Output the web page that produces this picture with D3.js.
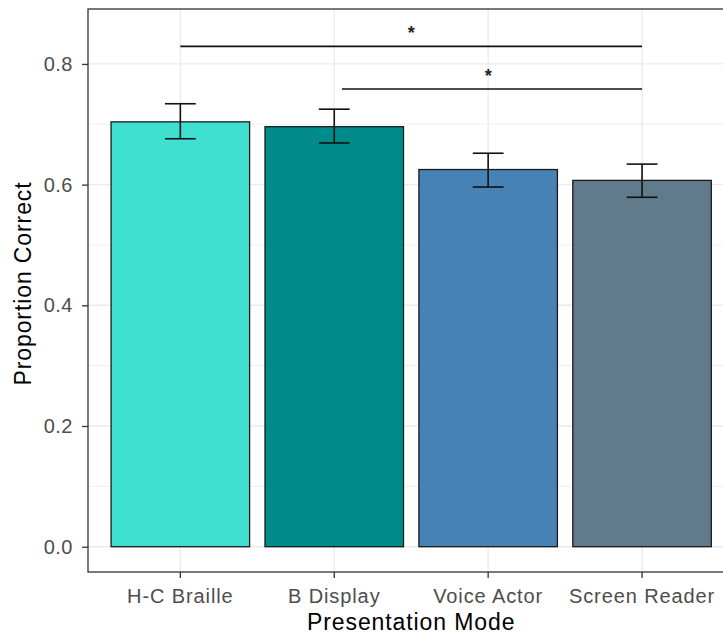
<!DOCTYPE html>
<html>
<head>
<meta charset="utf-8">
<script src="https://cdn.jsdelivr.net/npm/d3@7/dist/d3.min.js"></script>
<style>
  html, body { margin: 0; padding: 0; background: #fff; }
  svg { display: block; font-family: "Liberation Sans", Arial, sans-serif; }
</style>
</head>
<body>
<svg id="chart" width="723" height="637"></svg>
<script>
// Proportion correct by presentation mode, mean with error bars
const categories = ["H-C Braille", "B Display", "Voice Actor", "Screen Reader"];
const means = [0.704, 0.696, 0.625, 0.607];
const errLow = [0.676, 0.669, 0.596, 0.579];
const errHigh = [0.734, 0.725, 0.652, 0.634];
const fills = ["#40E0D0", "#008B8B", "#4682B4", "#607B8B"];
const yTicks = [0, 0.2, 0.4, 0.6, 0.8];
const yMinorTicks = [0.1, 0.3, 0.5, 0.7];
// significance brackets: start / end position (1-based category index), label position, heights
const sigFrom = [1, 2.05];
const sigTo = [4, 4];
const sigStarX = [2.5, 3];
const sigLineY = [0.829, 0.7585];
const sigStarY = [0.851, 0.780];
const sigLabels = ["*", "*"];

const svg = d3.select("#chart");
const panel = { left: 88, top: 9, right: 734.4, bottom: 572 };

const x = d3.scaleBand()
  .domain(categories)
  .range([panel.left, panel.right])
  .paddingInner(0.1)
  .paddingOuter(0.15);

// continuous position (1-based category index) -> pixel
const xPos = d3.scaleLinear()
  .domain([1, categories.length])
  .range([x(categories[0]) + x.bandwidth() / 2,
          x(categories[categories.length - 1]) + x.bandwidth() / 2]);

const y = d3.scaleLinear()
  .domain([-0.0419, 0.891])
  .range([panel.bottom, panel.top]);

// grid
const grid = svg.append("g");
grid.selectAll("line.minor").data(yMinorTicks).enter().append("line")
  .attr("x1", panel.left).attr("x2", panel.right)
  .attr("y1", d => y(d)).attr("y2", d => y(d))
  .attr("stroke", "#EBEBEB").attr("stroke-width", 0.8);
grid.selectAll("line.major").data(yTicks).enter().append("line")
  .attr("x1", panel.left).attr("x2", panel.right)
  .attr("y1", d => y(d)).attr("y2", d => y(d))
  .attr("stroke", "#EBEBEB").attr("stroke-width", 1.4);
grid.selectAll("line.vx").data(categories).enter().append("line")
  .attr("x1", d => x(d) + x.bandwidth() / 2).attr("x2", d => x(d) + x.bandwidth() / 2)
  .attr("y1", panel.top).attr("y2", panel.bottom)
  .attr("stroke", "#EBEBEB").attr("stroke-width", 1.4);

// bars
svg.append("g").selectAll("rect").data(categories).enter().append("rect")
  .attr("x", d => x(d))
  .attr("width", x.bandwidth())
  .attr("y", (d, i) => y(means[i]))
  .attr("height", (d, i) => y(0) - y(means[i]))
  .attr("fill", (d, i) => fills[i])
  .attr("stroke", "#1a1a1a")
  .attr("stroke-width", 1.3);

// error bars
const capHalf = x.step() * 0.1;
const eb = svg.append("g").attr("stroke", "#111").attr("stroke-width", 1.6).attr("fill", "none");
categories.forEach((c, i) => {
  const cx = x(c) + x.bandwidth() / 2;
  eb.append("line").attr("x1", cx).attr("x2", cx).attr("y1", y(errLow[i])).attr("y2", y(errHigh[i]));
  eb.append("line").attr("x1", cx - capHalf).attr("x2", cx + capHalf).attr("y1", y(errLow[i])).attr("y2", y(errLow[i]));
  eb.append("line").attr("x1", cx - capHalf).attr("x2", cx + capHalf).attr("y1", y(errHigh[i])).attr("y2", y(errHigh[i]));
});

// significance brackets
const sig = svg.append("g");
sigFrom.forEach((f, i) => {
  sig.append("line")
    .attr("x1", xPos(f)).attr("x2", xPos(sigTo[i]))
    .attr("y1", y(sigLineY[i])).attr("y2", y(sigLineY[i]))
    .attr("stroke", "#111").attr("stroke-width", 1.6);
  sig.append("text")
    .attr("x", xPos(sigStarX[i])).attr("y", y(sigStarY[i]))
    .attr("text-anchor", "middle").attr("dominant-baseline", "central")
    .attr("font-size", 18).attr("font-weight", "bold").attr("fill", "#222")
    .text(sigLabels[i]);
});

// panel border (right edge lies outside the view)
svg.append("rect")
  .attr("x", panel.left).attr("y", panel.top)
  .attr("width", panel.right - panel.left).attr("height", panel.bottom - panel.top)
  .attr("fill", "none").attr("stroke", "#333").attr("stroke-width", 1.3);

// axes
const yAxis = d3.axisLeft(y).tickValues(yTicks).tickFormat(d3.format(".1f")).tickSize(6).tickPadding(9);
const gy = svg.append("g").attr("transform", `translate(${panel.left},0)`).call(yAxis);
gy.select(".domain").remove();
gy.selectAll(".tick line").attr("stroke", "#333").attr("stroke-width", 1.3);
gy.selectAll(".tick text").attr("fill", "#4D4D4D").attr("font-size", 20)
  .attr("letter-spacing", "0.5px")
  .attr("font-family", "Liberation Sans, Arial, sans-serif");

const xAxis = d3.axisBottom(x).tickSize(6).tickPadding(11);
const gx = svg.append("g").attr("transform", `translate(0,${panel.bottom})`).call(xAxis);
gx.select(".domain").remove();
gx.selectAll(".tick line").attr("stroke", "#333").attr("stroke-width", 1.3);
gx.selectAll(".tick text").attr("fill", "#4D4D4D").attr("font-size", 20)
  .attr("letter-spacing", "0.9px")
  .attr("font-family", "Liberation Sans, Arial, sans-serif");

// axis titles
svg.append("text")
  .attr("x", (panel.left + panel.right) / 2).attr("y", 630)
  .attr("text-anchor", "middle").attr("font-size", 23).attr("fill", "#000")
  .attr("letter-spacing", "0.9px")
  .text("Presentation Mode");
svg.append("text")
  .attr("transform", `translate(31,${(panel.top + panel.bottom) / 2 - 7}) rotate(-90)`)
  .attr("text-anchor", "middle").attr("font-size", 23).attr("fill", "#000")
  .attr("letter-spacing", "0.9px")
  .text("Proportion Correct");
</script>
</body>
</html>
